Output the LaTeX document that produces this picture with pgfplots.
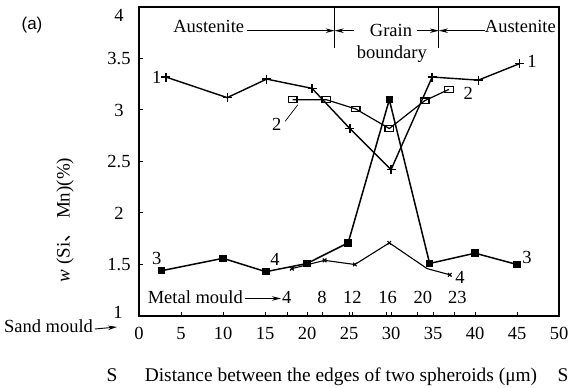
\documentclass[border=0pt]{standalone}
\usepackage{fontspec}
\setmainfont{Liberation Serif}
\newfontfamily\cjk{Noto Sans CJK SC}
\newfontfamily\arial{Liberation Sans}
\usepackage{pgfplots}
\pgfplotsset{compat=1.18}
\usetikzlibrary{arrows.meta}
\newcommand{\fs}{\fontsize{18.5}{22}\selectfont}
\begin{document}
\begin{tikzpicture}[x=1pt,y=1pt]
\useasboundingbox (0,0) rectangle (571,388);
\begin{axis}[at={(139pt,72pt)}, anchor=south west, scale only axis,
  width=420pt, height=309pt, xmin=0, xmax=50, ymin=1, ymax=4,
  axis line style={line width=1.2pt},
  tick style={line width=1pt, black}, tick align=inside,
  xtick pos=bottom, ytick pos=left, major tick length=4pt,
  xtick={0,5,10,15,20,25,30,35,40,45,50},
  ytick={1.5,2,2.5,3,3.5,4},
  yticklabels={1.5,2,2.5,3,3.5,{}},
  /pgf/number format/assume math mode=true,
  tick label style={font=\fs},
  yticklabel style={anchor=center, xshift=-20pt},
  xticklabel style={yshift=-8pt},
  extra x ticks={17.7,21.8,25.4,29.5,33.2,37.6},
  extra x tick labels={},
  clip=false]
\addplot[line width=1.4pt, mark=+, mark size=4.5pt, mark options={line width=1.4pt}] coordinates {(3.2,3.32)(10.5,3.12)(15.2,3.30)(20.6,3.21)(25.1,2.82)(30.0,2.42)(34.9,3.32)(40.4,3.29)(45.3,3.45)};
\addplot[line width=1.2pt, mark=square, mark size=3.5pt, mark options={fill=white, xscale=1.25, yscale=0.8}] coordinates {(18.3,3.10)(22.3,3.10)(25.8,3.01)(29.8,2.82)(34.0,3.09)(36.9,3.20)};
\addplot[line width=1.5pt, mark=square*, mark size=3pt] coordinates {(2.7,1.44)(10.0,1.56)(15.1,1.43)(20.0,1.51)(24.9,1.71)(29.8,3.10)(34.6,1.51)(40.0,1.61)(45.0,1.50)};
\addplot[line width=1.1pt, mark=x, mark size=2.5pt, mark indices={1,2,3,4,6}] coordinates {(18.2,1.46)(22.1,1.54)(25.7,1.50)(29.8,1.71)(34.3,1.46)(37.0,1.40)};
% top annotation
\draw[line width=1pt] (axis cs:23.3,4) -- (axis cs:23.3,3.6);
\draw[line width=1pt] (axis cs:35.7,4) -- (axis cs:35.7,3.6);
\draw[line width=0.9pt, -{Stealth[length=9pt,width=4.5pt]}] (axis cs:12.8,3.77) -- (axis cs:23.3,3.77);
\draw[line width=0.9pt, -{Stealth[length=9pt,width=4.5pt]}] (axis cs:25.6,3.77) -- (axis cs:23.3,3.77);
\draw[line width=0.9pt, -{Stealth[length=9pt,width=4.5pt]}] (axis cs:33.1,3.77) -- (axis cs:35.7,3.77);
\draw[line width=0.9pt, -{Stealth[length=9pt,width=4.5pt]}] (axis cs:41.2,3.77) -- (axis cs:35.7,3.77);
\node[font=\fs, anchor=base] at (axis cs:8.3,3.75) {Austenite};
\node[font=\fs, anchor=base] at (axis cs:30.0,3.71) {Grain};
\node[font=\fs, anchor=base] at (axis cs:30.1,3.50) {boundary};
\node[font=\fs, anchor=base] at (axis cs:45.4,3.75) {Austenite};
% series labels
\node[font=\fs] at (axis cs:2.1,3.32) {1};
\node[font=\fs] at (axis cs:46.8,3.47) {1};
\node[font=\fs] at (axis cs:16.4,2.86) {2};
\draw[line width=0.7pt] (axis cs:17.4,2.89) -- (axis cs:18.9,3.05);
\node[font=\fs] at (axis cs:39.2,3.16) {2};
\node[font=\fs] at (axis cs:2.1,1.56) {3};
\node[font=\fs] at (axis cs:46.2,1.57) {3};
\node[font=\fs] at (axis cs:16.2,1.55) {4};
\node[font=\fs] at (axis cs:38.2,1.37) {4};
% metal mould scale
\node[font=\fs, anchor=base] at (axis cs:6.7,1.126) {Metal mould};
\draw[line width=0.9pt, -{Stealth[length=9pt,width=4.5pt]}] (axis cs:12.6,1.17) -- (axis cs:16.9,1.17);
\node[font=\fs, anchor=base] at (axis cs:17.6,1.12) {4};
\node[font=\fs, anchor=base] at (axis cs:21.8,1.12) {8};
\node[font=\fs, anchor=base] at (axis cs:25.4,1.12) {12};
\node[font=\fs, anchor=base] at (axis cs:29.6,1.12) {16};
\node[font=\fs, anchor=base] at (axis cs:33.8,1.12) {20};
\node[font=\fs, anchor=base] at (axis cs:37.9,1.12) {23};
\end{axis}
% outside texts
\node[font=\fs] at (119,373) {4};
\node[font=\fs] at (118,76) {1};
\node[font=\fs, anchor=base] at (48.5,55) {Sand mould};
\draw[line width=0.9pt, -{Stealth[length=9pt,width=4.5pt]}] (95,59) -- (117,61);
\node[font=\fontsize{19.4}{23}\selectfont, anchor=base] at (112,6) {S};
\node[font=\fontsize{19.4}{23}\selectfont, anchor=base] at (341,6) {Distance between the edges of two spheroids (μm)};
\node[font=\fontsize{19.4}{23}\selectfont, anchor=base] at (563,6) {S};
\node[font=\fontsize{19}{22}\selectfont, rotate=90] at (65,168) {\textit{w} (Si{\cjk 、} Mn)(\%)};
\node[font=\arial\fontsize{17}{20}\selectfont] at (32,363) {(a)};
\end{tikzpicture}
\end{document}
